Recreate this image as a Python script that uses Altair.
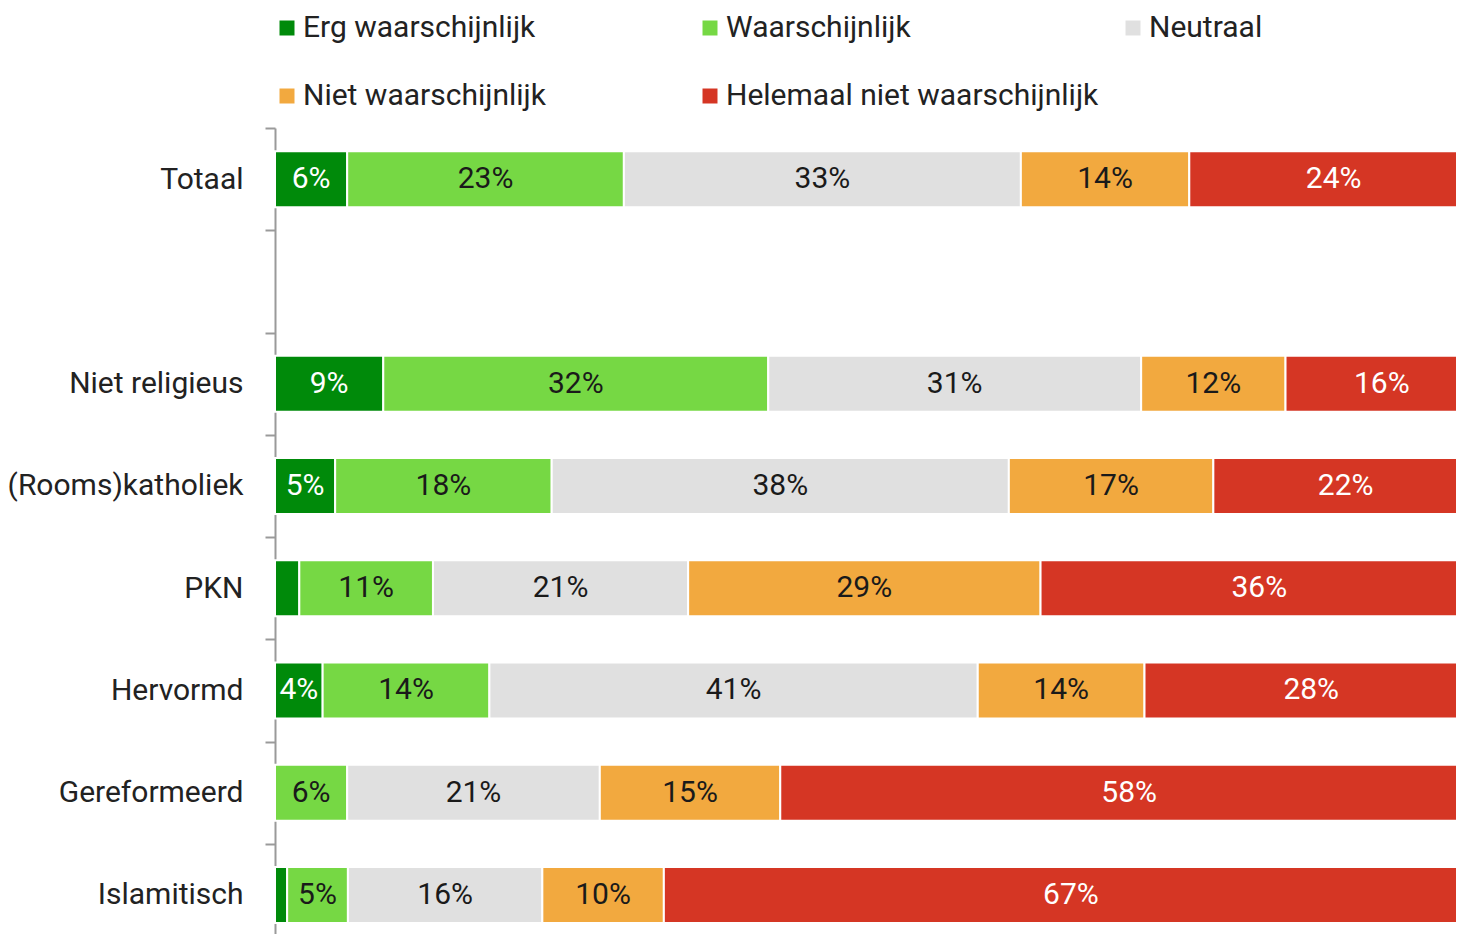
import altair as alt
import pandas as pd

categories = ["Totaal", "Niet religieus", "(Rooms)katholiek", "PKN", "Hervormd", "Gereformeerd", "Islamitisch"]
row_order = ["Totaal", " ", "Niet religieus", "(Rooms)katholiek", "PKN", "Hervormd", "Gereformeerd", "Islamitisch"]
responses = ["Erg waarschijnlijk", "Waarschijnlijk", "Neutraal", "Niet waarschijnlijk", "Helemaal niet waarschijnlijk"]

erg_waarschijnlijk = [6, 9, 5, 2, 4, 0, 1]
waarschijnlijk = [23, 32, 18, 11, 14, 6, 5]
neutraal = [33, 31, 38, 21, 41, 21, 16]
niet_waarschijnlijk = [14, 12, 17, 29, 14, 15, 10]
helemaal_niet = [24, 16, 22, 36, 28, 58, 67]

series = [erg_waarschijnlijk, waarschijnlijk, neutraal, niet_waarschijnlijk, helemaal_niet]
colors = ["#008a0a", "#76d844", "#e0e0e0", "#f2a93f", "#d53624"]

rows = []
for i, cat in enumerate(categories):
    for j, (resp, vals) in enumerate(zip(responses, series)):
        rows.append({"cat": cat, "resp": resp, "order": j, "value": vals[i]})
df = pd.DataFrame(rows)

FONT = "Roboto"

base = alt.Chart(df).transform_stack(
    stack="value", groupby=["cat"], as_=["x0", "x1"], offset="normalize",
    sort=[alt.SortField("order", order="ascending")]
).transform_calculate(
    mid="(datum.x0 + datum.x1) / 2",
    label="datum.value + '%'",
    tcolor="(datum.order == 0 || datum.order == 4) ? '#ffffff' : '#1a1a1a'"
)

yscale = alt.Scale(domain=row_order, range=[0, 818], paddingInner=0, paddingOuter=0)

yaxis = alt.Axis(
    title=None, labelFont=FONT, labelFontSize=30, labelColor="#222222", labelLimit=500,
    domainColor="#9a9a9a", domainWidth=2, tickColor="#9a9a9a", tickWidth=2,
    tickSize=10, labelPadding=22, tickBand="extent", grid=False,
)

xscale = alt.Scale(domain=[0, 1], range=[0, 1203], nice=False, zero=True)

bars = base.mark_bar(stroke="white", strokeWidth=2, size=56).encode(
    y=alt.Y("cat:N", scale=yscale, axis=yaxis),
    x=alt.X("x0:Q", scale=xscale, axis=None),
    x2="x1:Q",
    color=alt.Color(
        "resp:N",
        scale=alt.Scale(domain=responses, range=colors),
        legend=alt.Legend(
            title=None, orient="none", legendX=-3, legendY=-115, direction="horizontal",
            columns=3, gridAlign="all", columnPadding=19, rowPadding=38,
            symbolType="square", symbolSize=225, symbolStrokeWidth=0, symbolOpacity=1,
            labelFont=FONT, labelFontSize=30, labelColor="#222222", labelOffset=1,
            labelLimit=0,
        ),
    ),
    order=alt.Order("order:Q"),
)

texts = base.transform_filter("datum.value >= 4").mark_text(
    font=FONT, fontSize=30, baseline="middle", align="center"
).encode(
    y=alt.Y("cat:N", scale=yscale, axis=yaxis),
    x=alt.X("mid:Q", scale=xscale, axis=None),
    text="label:N",
    color=alt.Color("tcolor:N", scale=None),
)

chart = alt.layer(bars, texts).properties(
    width=1181, height=806,
    background="white",
    autosize=alt.AutoSizeParams(type="none"),
    padding={"left": 267, "top": 120, "right": 0, "bottom": 0},
).configure_view(stroke=None, strokeWidth=0).configure_axis(
    grid=False, gridOpacity=0
)

chart.save("out.html", embed_options={"renderer": "svg", "actions": False})
